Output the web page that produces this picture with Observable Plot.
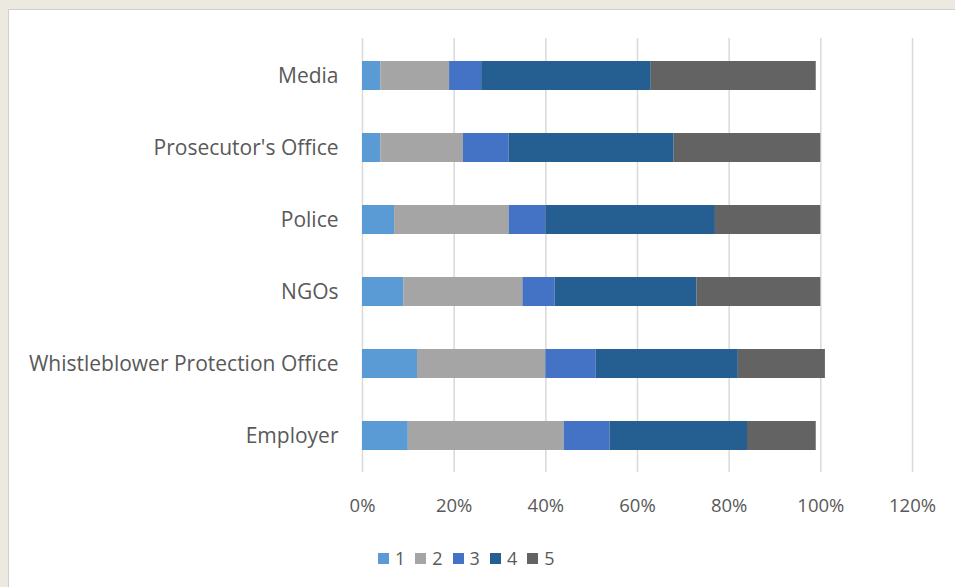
<!DOCTYPE html>
<html>
<head>
<meta charset="utf-8">
<script src="https://cdn.jsdelivr.net/npm/d3@7"></script>
<script src="https://cdn.jsdelivr.net/npm/@observablehq/plot@0.6"></script>
<style>
  html, body { margin: 0; padding: 0; background: #ECEAE0; width: 955px; height: 587px; overflow: hidden; }
  #panel { position: absolute; left: 8px; top: 9px; width: 960px; height: 600px; background: #fff; border: 1px solid #cfcfcf; box-sizing: border-box; }
  #chart { position: absolute; left: 0; top: 0; }
  #legend { position: absolute; top: 546px; left: 378px; display: flex; font-family: "Open Sans", sans-serif; font-size: 18px; color: #595959; }
  #legend .item { display: flex; align-items: center; margin-right: 10px; }
  #legend .sw { width: 11px; height: 11px; margin-right: 6px; }
</style>
</head>
<body>
<div id="panel"></div>
<div id="chart"></div>
<div id="legend"></div>
<script>
const categories = ["Media", "Prosecutor's Office", "Police", "NGOs", "Whistleblower Protection Office", "Employer"];
const seriesNames = ["1", "2", "3", "4", "5"];
const s1 = [4, 4, 7, 9, 12, 10];
const s2 = [15, 18, 25, 26, 28, 34];
const s3 = [7, 10, 8, 7, 11, 10];
const s4 = [37, 36, 37, 31, 31, 30];
const s5 = [36, 32, 23, 27, 19, 15];
const seriesColors = ["#5B9BD5", "#A5A5A5", "#4472C4", "#255E91", "#636363"];
const xTicks = [0, 0.2, 0.4, 0.6, 0.8, 1.0, 1.2];

const seriesValues = [s1, s2, s3, s4, s5];
const data = [];
categories.forEach((c, i) => {
  seriesNames.forEach((s, j) => {
    data.push({category: c, series: s, value: seriesValues[j][i] / 100});
  });
});

const chart = Plot.plot({
  width: 955,
  height: 520,
  marginLeft: 362,
  marginRight: 43,
  marginTop: 38,
  marginBottom: 48,
  style: { fontFamily: "'Open Sans', sans-serif", fontSize: "18px", color: "#595959", background: "transparent" },
  x: { domain: [0, 1.2], ticks: xTicks, tickFormat: d3.format(".0%"), label: null, tickSize: 0, tickPadding: 26 },
  y: { domain: categories, paddingInner: 0.6, paddingOuter: 0.3, label: null, tickSize: 0, tickPadding: 24 },
  color: { domain: seriesNames, range: seriesColors },
  marks: [
    Plot.gridX(xTicks, { stroke: "#d9d9d9", strokeOpacity: 1, strokeWidth: 1.5 }),
    Plot.barX(data, Plot.stackX({ x: "value", y: "category", fill: "series", order: seriesNames })),
    Plot.axisX({ ticks: xTicks, tickFormat: d3.format(".0%"), tickSize: 0, tickPadding: 26, fontSize: 18.5 }),
    Plot.axisY({ tickSize: 0, tickPadding: 24, fontSize: 21 })
  ]
});
document.getElementById("chart").appendChild(chart);

const legend = document.getElementById("legend");
seriesNames.forEach((s, i) => {
  const item = document.createElement("div");
  item.className = "item";
  const sw = document.createElement("span");
  sw.className = "sw";
  sw.style.background = seriesColors[i];
  const t = document.createElement("span");
  t.textContent = s;
  item.appendChild(sw);
  item.appendChild(t);
  legend.appendChild(item);
});
</script>
</body>
</html>
